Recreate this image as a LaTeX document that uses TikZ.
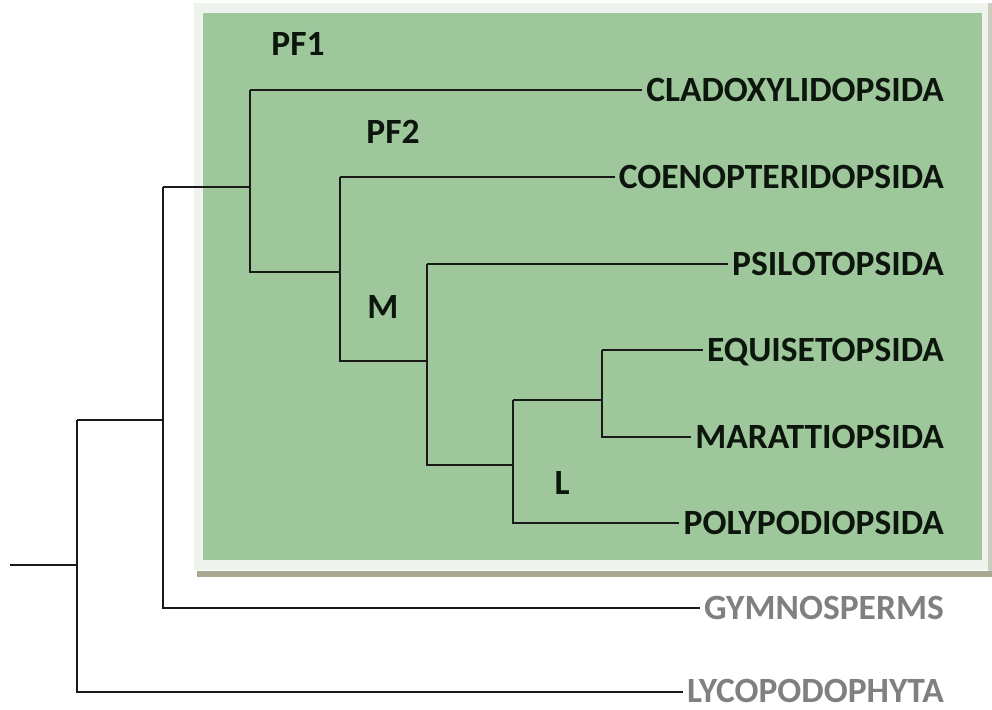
\documentclass[tikz,border=0pt]{standalone}
\usepackage{fontspec}
\setmainfont{Carlito}
\definecolor{boxgreen}{RGB}{158,200,156}
\definecolor{boxrim}{RGB}{238,243,237}
\definecolor{shadowbar}{RGB}{168,168,146}
\definecolor{inktext}{RGB}{12,22,12}
\definecolor{greytext}{RGB}{128,128,128}
\tikzset{
  branch/.style={line width=2.6pt, draw=black!90},
  taxon/.style={font=\fontsize{35.5}{40}\selectfont\bfseries, text=inktext, anchor=base east, inner xsep=4pt, inner ysep=0.5pt},
  outtaxon/.style={taxon, text=greytext},
  cladelabel/.style={font=\fontsize{35.5}{40}\selectfont\bfseries, text=inktext, inner sep=0pt},
}
\begin{document}
\begin{tikzpicture}[x=1pt,y=-1pt]
\useasboundingbox (0,0) rectangle (992,709);
% box
\fill[boxrim] (194,3) rectangle (988,570);
\fill[shadowbar] (197,571) rectangle (992,577);
\fill[shadowbar!60] (988,3) rectangle (992,571);
\fill[boxgreen] (203,13) rectangle (982,560);

% taxon labels (base east at baseline = line y + 11.5)
\node[taxon] (clad) at (948,101.5) {CLADOXYLIDOPSIDA};
\node[taxon] (coen) at (948,188.5) {COENOPTERIDOPSIDA};
\node[taxon] (psil) at (948,275.5) {PSILOTOPSIDA};
\node[taxon] (equi) at (948,361.5) {EQUISETOPSIDA};
\node[taxon] (mara) at (948,448.5) {MARATTIOPSIDA};
\node[taxon] (poly) at (948,534.5) {POLYPODIOPSIDA};
\node[outtaxon] (gymn) at (948,619.5) {GYMNOSPERMS};
\node[outtaxon] (lyco) at (948,702.5) {LYCOPODOPHYTA};

% clade labels
\node[cladelabel] (pf1) at (298,44) {PF1};
\node[cladelabel] (pf2) at (393,132) {PF2};
\node[cladelabel] (mlab) at (383,307) {M};
\node[cladelabel] (llab) at (562,483) {L};

% internal nodes
\coordinate (root) at (10,565);
\coordinate (n0) at (77,565);
\coordinate (n1) at (163,420);
\coordinate (n2) at (250,187);
\coordinate (n3) at (340,272);
\coordinate (n4) at (427,361);
\coordinate (n5) at (513,465);
\coordinate (n6) at (602,400);

% tip coordinates (line height of each taxon)
\coordinate (tclad) at ([yshift=11.5pt]clad.base west);
\coordinate (tcoen) at ([yshift=11.5pt]coen.base west);
\coordinate (tpsil) at ([yshift=11.5pt]psil.base west);
\coordinate (tequi) at ([yshift=11.5pt]equi.base west);
\coordinate (tmara) at ([yshift=11.5pt]mara.base west);
\coordinate (tpoly) at ([yshift=11.5pt]poly.base west);
\coordinate (tgymn) at ([yshift=11.5pt]gymn.base west);
\coordinate (tlyco) at ([yshift=10.5pt]lyco.base west);

% branches
\draw[branch] (root) -- (n0);
\draw[branch] (n1 -| n0) -- (tlyco -| n0) -- (tlyco);
\draw[branch] (n0 |- n1) -- (n1);
\draw[branch] (n2 -| n1) -- (tgymn -| n1) -- (tgymn);
\draw[branch] (n1 |- n2) -- (n2);
\draw[branch] (tclad -| n2) -- (n3 -| n2) -- (n3);
\draw[branch] (tclad -| n2) -- (tclad);
\draw[branch] (tcoen -| n3) -- (n4 -| n3) -- (n4);
\draw[branch] (tcoen -| n3) -- (tcoen);
\draw[branch] (tpsil -| n4) -- (n5 -| n4) -- (n5);
\draw[branch] (tpsil -| n4) -- (tpsil);
\draw[branch] (n6 -| n5) -- (tpoly -| n5) -- (tpoly);
\draw[branch] (n5 |- n6) -- (n6);
\draw[branch] (tequi -| n6) -- (tmara -| n6) -- (tmara);
\draw[branch] (tequi -| n6) -- (tequi);
\end{tikzpicture}
\end{document}
